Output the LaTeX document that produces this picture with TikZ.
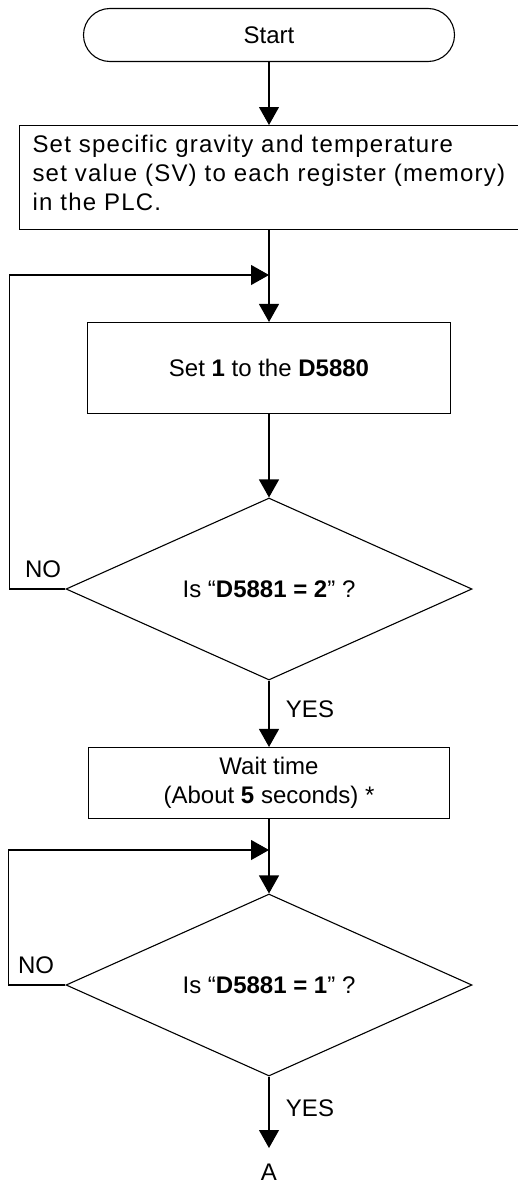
\documentclass[tikz,border=0pt]{standalone}
\usepackage{fontspec}
\setmainfont{Liberation Sans}
\newfontfamily\widefont[LetterSpace=5]{Liberation Sans}
\usetikzlibrary{arrows.meta,shapes.geometric}
\begin{document}
\begin{tikzpicture}[x=1pt,y=-1pt,line width=1.1pt,
  every node/.style={font=\fontsize{24}{29}\selectfont},
  arr/.style={-{Triangle[width=20pt,length=18pt]}},
  box/.style={draw,rectangle,align=center},
  term/.style={draw,rectangle,rounded corners=26.5pt,minimum width=371pt,minimum height=53pt},
  test/.style={draw,diamond,aspect=2.2,inner sep=0pt,minimum width=406pt,minimum height=182pt}]
  \useasboundingbox (0,0) rectangle (518,1183);
  % Start terminal
  \node[term] (start) at (269,35) {Start};
  % Steps
  \node[box,anchor=north west,text width=500pt,align=left,inner xsep=13pt,minimum height=104pt,
    font=\widefont\fontsize{24}{29}\selectfont] (setsv) at (19,125)
    {Set specific gravity and temperature\\set value (SV) to each register (memory)\\in the PLC.\rule[-10pt]{0pt}{0pt}};
  \node[box,minimum width=363pt,minimum height=91pt] (setone) at (269,368) {Set \textbf{1} to the \textbf{D5880}};
  \node[test] (testtwo) at (269,589) {Is “\textbf{D5881 = 2}” ?};
  \node[box,minimum width=361pt,minimum height=71pt] (wait) at (269,783) {Wait time\\(About \textbf{5} seconds) *};
  \node[test] (testone) at (269,985) {Is “\textbf{D5881 = 1}” ?};
  \node[anchor=north,inner ysep=15pt] (endA) at (269,1148) {A};
  % Flow down
  \draw[arr] (start.south) -- (start.south |- setsv.north);
  \draw[arr] (setsv.south -| setone.north) -- (setone.north);
  \draw[arr] (setone) -- (testtwo);
  \draw[arr] (testtwo) -- (wait);
  \draw[arr] (wait) -- (testone);
  \draw[arr] (testone) -- (endA);
  % NO loops back
  \coordinate (jone) at (269,275);
  \coordinate (jtwo) at (269,850);
  \draw[arr] (testtwo.west) -- ++(-56,0) |- (jone);
  \draw[arr] (testone.west) -- ++(-57,0) |- (jtwo);
  % Labels
  \node (noone) at (43,569) {NO};
  \node (yesone) at (310,709) {YES};
  \node (notwo) at (36,965) {NO};
  \node (yestwo) at (310,1108) {YES};
\end{tikzpicture}
\end{document}
